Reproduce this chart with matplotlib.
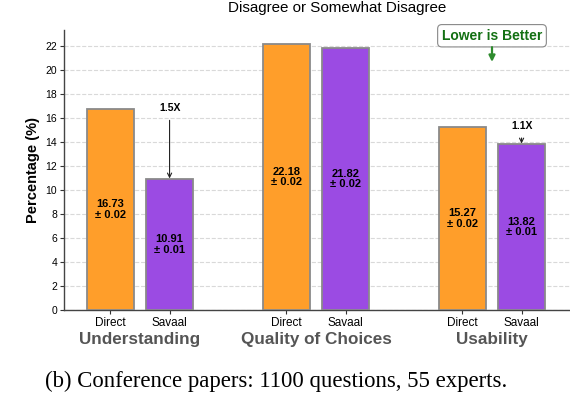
import matplotlib
matplotlib.use("Agg")
import matplotlib.pyplot as plt
import numpy as np

categories = ["Understanding", "Quality of Choices", "Usability"]
methods = ["Direct", "Savaal"]
direct_vals = [16.73, 22.18, 15.27]
direct_err = [0.02, 0.02, 0.02]
savaal_vals = [10.91, 21.82, 13.82]
savaal_err = [0.01, 0.02, 0.01]
ratio_labels = {0: "1.5X", 2: "1.1X"}
yticks = list(range(0, 23, 2))

plt.rcParams['font.family'] = ['Liberation Sans', 'DejaVu Sans']

fig = plt.figure(figsize=(5.70, 4.18), dpi=100)
ax = fig.add_axes([64/570, 1-310/418, (570-64)/570, (310-30)/418])

orange = '#FF9E2A'
purple = '#9B4BE3'
off = 0.168
w = 0.267
x = np.arange(len(categories))

ax.bar(x - off, direct_vals, w, color=orange, edgecolor='#8a8a8a', linewidth=1.3, zorder=3)
ax.bar(x + off, savaal_vals, w, color=purple, edgecolor='#8a8a8a', linewidth=1.3, zorder=3)

for xi, v, e in zip(x - off, direct_vals, direct_err):
    ax.text(xi, v/2, f"{v:.2f}\n± {e:.2f}", ha='center', va='center',
            fontsize=8, fontweight='bold', color='black', zorder=4, linespacing=1.1)
for xi, v, e in zip(x + off, savaal_vals, savaal_err):
    ax.text(xi, v/2, f"{v:.2f}\n± {e:.2f}", ha='center', va='center',
            fontsize=8, fontweight='bold', color='black', zorder=4, linespacing=1.1)

# ratio annotations
text_y = {0: 16.8, 2: 15.33}
for i, lab in ratio_labels.items():
    top = savaal_vals[i]
    ax.annotate(lab, xy=(x[i] + off, top + 0.05), xytext=(x[i] + off, text_y[i]),
                ha='center', va='center', fontsize=7.5, fontweight='bold',
                arrowprops=dict(arrowstyle='->', color='#222', lw=0.8, shrinkA=3, shrinkB=0),
                zorder=5)

# Lower is Better
ax.text(2, 22.85, "Lower is Better", ha='center', va='center', fontsize=10,
        fontweight='bold', color='#137013',
        bbox=dict(boxstyle='round,pad=0.3', fc='white', ec='#888', lw=0.8), zorder=6)
ax.annotate("", xy=(2, 20.67), xytext=(2, 21.9),
            arrowprops=dict(arrowstyle='-|>', color='#2e8b2e', lw=1.6, mutation_scale=9,
                            shrinkA=0, shrinkB=0), zorder=7)

ax.set_xlim(-76/176, 430/176)
ax.set_ylim(0, 23.33)
ax.set_yticks(yticks)
ax.set_yticklabels([str(t) for t in yticks], fontsize=7.5)
ax.set_xticks(list(x - off) + list(x + off))
ax.set_xticklabels(["Direct"]*3 + ["Savaal"]*3, fontsize=8.5)
ax.tick_params(axis='x', length=3, width=0.8, pad=2, colors='#333', labelcolor='black')
ax.tick_params(axis='y', length=3, width=0.8, pad=2, colors='#333', labelcolor='black')
ax.yaxis.grid(True, linestyle='--', color='#d9d9d9', linewidth=0.8, zorder=0)
ax.set_axisbelow(True)
for s in ['top', 'right']:
    ax.spines[s].set_visible(False)
for s in ['left', 'bottom']:
    ax.spines[s].set_color('#444')
    ax.spines[s].set_linewidth(1.0)

ax.set_ylabel("Percentage (%)", fontsize=10.5, fontweight='bold', labelpad=4)

for xi, c in zip(x, categories):
    ax.text(xi, -0.08, c, transform=ax.get_xaxis_transform(), ha='center', va='top',
            fontsize=12.3, fontweight='bold', color='#555555')

fig.text(337/570, 1-8/418, "Disagree or Somewhat Disagree", ha='center', va='center', fontsize=10.9)
fig.text(276/570, 1-381/418, "(b) Conference papers: 1100 questions, 55 experts.",
         ha='center', va='center', fontsize=16.4, family=['Liberation Serif', 'DejaVu Serif'])

fig.savefig("out.png", dpi=100)
